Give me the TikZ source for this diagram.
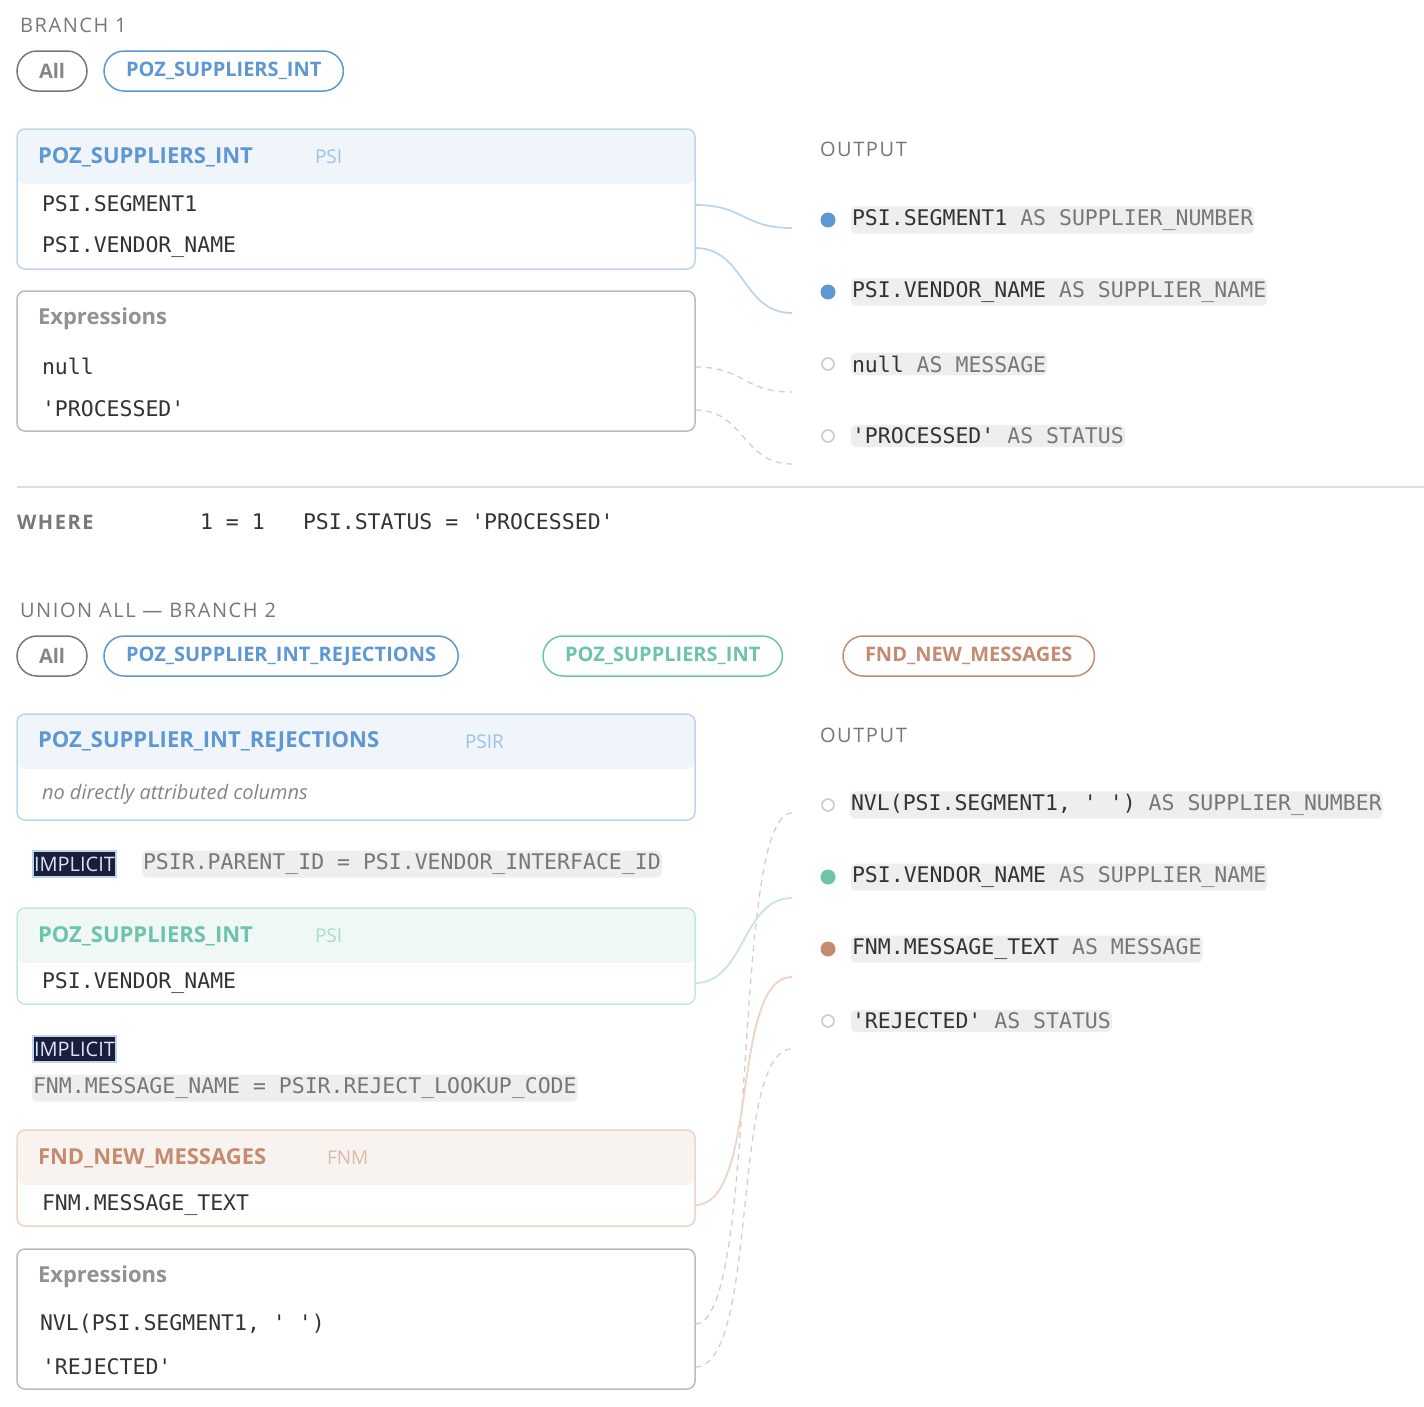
\documentclass[tikz,border=0pt]{standalone}
\usepackage{fontspec}
\setmainfont{Open Sans}
\setmonofont{DejaVu Sans Mono}
\newfontfamily\lbl[LetterSpace=8]{Open Sans}
\definecolor{bl}{HTML}{5E97D3}
\definecolor{blL}{HTML}{BCD5EE}
\definecolor{blH}{HTML}{EFF5FB}
\definecolor{gr}{HTML}{6CC4AA}
\definecolor{grL}{HTML}{C2E8DC}
\definecolor{grH}{HTML}{EFF8F5}
\definecolor{orc}{HTML}{C48B71}
\definecolor{orL}{HTML}{EDD3C8}
\definecolor{orH}{HTML}{F9F3F0}
\definecolor{dk}{HTML}{333333}
\definecolor{md}{HTML}{777777}
\definecolor{lg}{HTML}{BBBBBB}
\definecolor{chip}{HTML}{EEEEEE}
\definecolor{navy}{HTML}{1B1D3A}
\begin{document}
\begin{tikzpicture}[x=1pt,y=-1pt,
  every node/.style={inner sep=0pt,outer sep=0pt},
  lab/.style={anchor=west,font=\lbl\fontsize{20}{20}\selectfont,text=md},
  pill/.style={draw,line width=1.5pt,rounded corners=20pt,minimum height=40pt,inner xsep=22pt,font=\fontsize{20}{20}\selectfont\bfseries,anchor=west},
  title/.style={anchor=west,font=\fontsize{22}{22}\selectfont\bfseries},
  alias/.style={anchor=west,font=\fontsize{19}{19}\selectfont},
  code/.style={anchor=west,font=\ttfamily\fontsize{21.5}{21.5}\selectfont,text=dk},
  exph/.style={anchor=west,font=\fontsize{22}{22}\selectfont\bfseries,text=md!80},
  outt/.style={anchor=west,fill=chip,rounded corners=5pt,inner xsep=1pt,inner ysep=3pt,font=\ttfamily\fontsize{21.5}{21.5}\selectfont,text=dk},
  chipt/.style={anchor=west,fill=chip,rounded corners=5pt,inner xsep=1pt,inner ysep=3pt,font=\ttfamily\fontsize{21.5}{21.5}\selectfont,text=md},
  imp/.style={anchor=west,fill=navy,draw=blL,line width=1.5pt,inner xsep=1pt,minimum height=26pt,text=blL!60,font=\fontsize{20}{20}\selectfont},
  dotf/.style={circle,minimum size=15pt},
  doto/.style={circle,draw=lg!70,line width=1.8pt,minimum size=12pt},
  link/.style={line width=1.8pt},
  dlink/.style={line width=1.3pt,draw=lg!70,dash pattern=on 6pt off 5pt}]
\useasboundingbox (0,0) rectangle (1424,1406);
% ---------- Branch 1
\node[lab] (b1) at (20,25) {BRANCH 1};
\node[pill,draw=md,text=md!90] (p1) at (17,71) {All};
\node[pill,draw=bl,text=bl] (p2) at (104,71) {POZ\_SUPPLIERS\_INT};
\fill[blH,rounded corners=8pt] (17,129) rectangle (695,184);
\draw[blL,line width=1.5pt,rounded corners=8pt] (17,129) rectangle (695,269);
\node[title,text=bl] (t1) at (38,157) {POZ\_SUPPLIERS\_INT};
\node[alias,text=bl!60] (a1) at (315,157) {PSI};
\node[code] (r1) at (42,204) {PSI.SEGMENT1};
\node[code] (r2) at (42,247) {PSI.VENDOR\_NAME};
\draw[lg,line width=1.5pt,rounded corners=8pt] (17,291) rectangle (695,431);
\node[exph] (e1) at (38,319) {Expressions};
\node[code] (r3) at (42,366) {null};
\node[code] (r4) at (42,409) {'PROCESSED'};
\node[lab] (o1) at (820,149) {OUTPUT};
\node[dotf,fill=bl] (d1) at (828,220) {};
\node[dotf,fill=bl] (d2) at (828,292) {};
\node[doto] (d3) at (828,364) {};
\node[doto] (d4) at (828,436) {};
\node[outt] (q1) at (851,220) {PSI.SEGMENT1 \textcolor{md}{AS SUPPLIER\_NUMBER}};
\node[outt] (q2) at (851,292) {PSI.VENDOR\_NAME \textcolor{md}{AS SUPPLIER\_NAME}};
\node[outt] (q3) at (851,364) {null \textcolor{md}{AS MESSAGE}};
\node[outt] (q4) at (851,436) {'PROCESSED' \textcolor{md}{AS STATUS}};
\coordinate (s1) at (695,205); \coordinate (e1c) at (792,228);
\coordinate (s2) at (695,248); \coordinate (e2c) at (792,313);
\coordinate (s3) at (695,367); \coordinate (e3c) at (792,392);
\coordinate (s4) at (695,410); \coordinate (e4c) at (792,464);
\draw[link,blL] (s1) .. controls (745,205) and (742,228) .. (e1c);
\draw[link,blL] (s2) .. controls (745,248) and (742,313) .. (e2c);
\draw[dlink] (s3) .. controls (745,367) and (742,392) .. (e3c);
\draw[dlink] (s4) .. controls (745,410) and (742,464) .. (e4c);
\coordinate (sepA) at (17,487); \coordinate (sepB) at (1424,487);
\draw[chip!80!black!20,line width=1.5pt,draw=lg!50] (sepA) -- (sepB);
\node[anchor=west,font=\lbl\fontsize{20}{20}\selectfont\bfseries,text=md] (w) at (17,522) {WHERE};
\node[code] (w1) at (200,522) {1 = 1};
\node[code] (w2) at (303,522) {PSI.STATUS = 'PROCESSED'};
% ---------- Branch 2
\node[lab] (b2) at (20,610) {UNION ALL — BRANCH 2};
\node[pill,draw=md,text=md!90] (p3) at (17,656) {All};
\node[pill,draw=bl,text=bl] (p4) at (104,656) {POZ\_SUPPLIER\_INT\_REJECTIONS};
\node[pill,draw=gr,text=gr] (p5) at (543,656) {POZ\_SUPPLIERS\_INT};
\node[pill,draw=orc,text=orc] (p6) at (843,656) {FND\_NEW\_MESSAGES};
\fill[blH,rounded corners=8pt] (17,714) rectangle (695,769);
\draw[blL,line width=1.5pt,rounded corners=8pt] (17,714) rectangle (695,820);
\node[title,text=bl] (t2) at (38,742) {POZ\_SUPPLIER\_INT\_REJECTIONS};
\node[alias,text=bl!60] (a2) at (465,742) {PSIR};
\node[anchor=west,font=\fontsize{20}{20}\selectfont\itshape,text=md!90] (nd) at (42,794) {no directly attributed columns};
\node[imp] (i1) at (33,864) {IMPLICIT};
\node[chipt] (j1) at (142,864) {PSIR.PARENT\_ID = PSI.VENDOR\_INTERFACE\_ID};
\fill[grH,rounded corners=8pt] (17,908) rectangle (695,963);
\draw[grL,line width=1.5pt,rounded corners=8pt] (17,908) rectangle (695,1004);
\node[title,text=gr] (t3) at (38,936) {POZ\_SUPPLIERS\_INT};
\node[alias,text=gr!60] (a3) at (315,936) {PSI};
\node[code] (r5) at (42,983) {PSI.VENDOR\_NAME};
\node[imp] (i2) at (33,1049) {IMPLICIT};
\node[chipt] (j2) at (32,1088) {FNM.MESSAGE\_NAME = PSIR.REJECT\_LOOKUP\_CODE};
\fill[orH,rounded corners=8pt] (17,1130) rectangle (695,1185);
\draw[orL,line width=1.5pt,rounded corners=8pt] (17,1130) rectangle (695,1226);
\node[title,text=orc] (t4) at (38,1158) {FND\_NEW\_MESSAGES};
\node[alias,text=orc!60] (a4) at (327,1158) {FNM};
\node[code] (r6) at (42,1205) {FNM.MESSAGE\_TEXT};
\draw[lg,line width=1.5pt,rounded corners=8pt] (17,1249) rectangle (695,1389);
\node[exph] (e2) at (38,1277) {Expressions};
\node[code] (r7) at (40,1324) {NVL(PSI.SEGMENT1, ' ')};
\node[code] (r8) at (42,1367) {'REJECTED'};
\node[lab] (o2) at (820,735) {OUTPUT};
\node[doto] (d5) at (828,805) {};
\node[dotf,fill=gr] (d6) at (828,877) {};
\node[dotf,fill=orc] (d7) at (828,949) {};
\node[doto] (d8) at (828,1021) {};
\node[outt] (q5) at (850,805) {NVL(PSI.SEGMENT1, ' ') \textcolor{md}{AS SUPPLIER\_NUMBER}};
\node[outt] (q6) at (851,877) {PSI.VENDOR\_NAME \textcolor{md}{AS SUPPLIER\_NAME}};
\node[outt] (q7) at (851,949) {FNM.MESSAGE\_TEXT \textcolor{md}{AS MESSAGE}};
\node[outt] (q8) at (851,1021) {'REJECTED' \textcolor{md}{AS STATUS}};
\coordinate (s5) at (695,983); \coordinate (e5c) at (792,898);
\coordinate (s6) at (695,1205); \coordinate (e6c) at (792,977);
\coordinate (s7) at (695,1324); \coordinate (e7c) at (792,813);
\coordinate (s8) at (695,1367); \coordinate (e8c) at (792,1049);
\draw[dlink] (s7) .. controls (760,1324) and (730,813) .. (e7c);
\draw[dlink] (s8) .. controls (760,1367) and (730,1049) .. (e8c);
\draw[link,grL] (s5) .. controls (745,983) and (742,898) .. (e5c);
\draw[link,orL] (s6) .. controls (760,1205) and (730,977) .. (e6c);
\end{tikzpicture}
\end{document}
